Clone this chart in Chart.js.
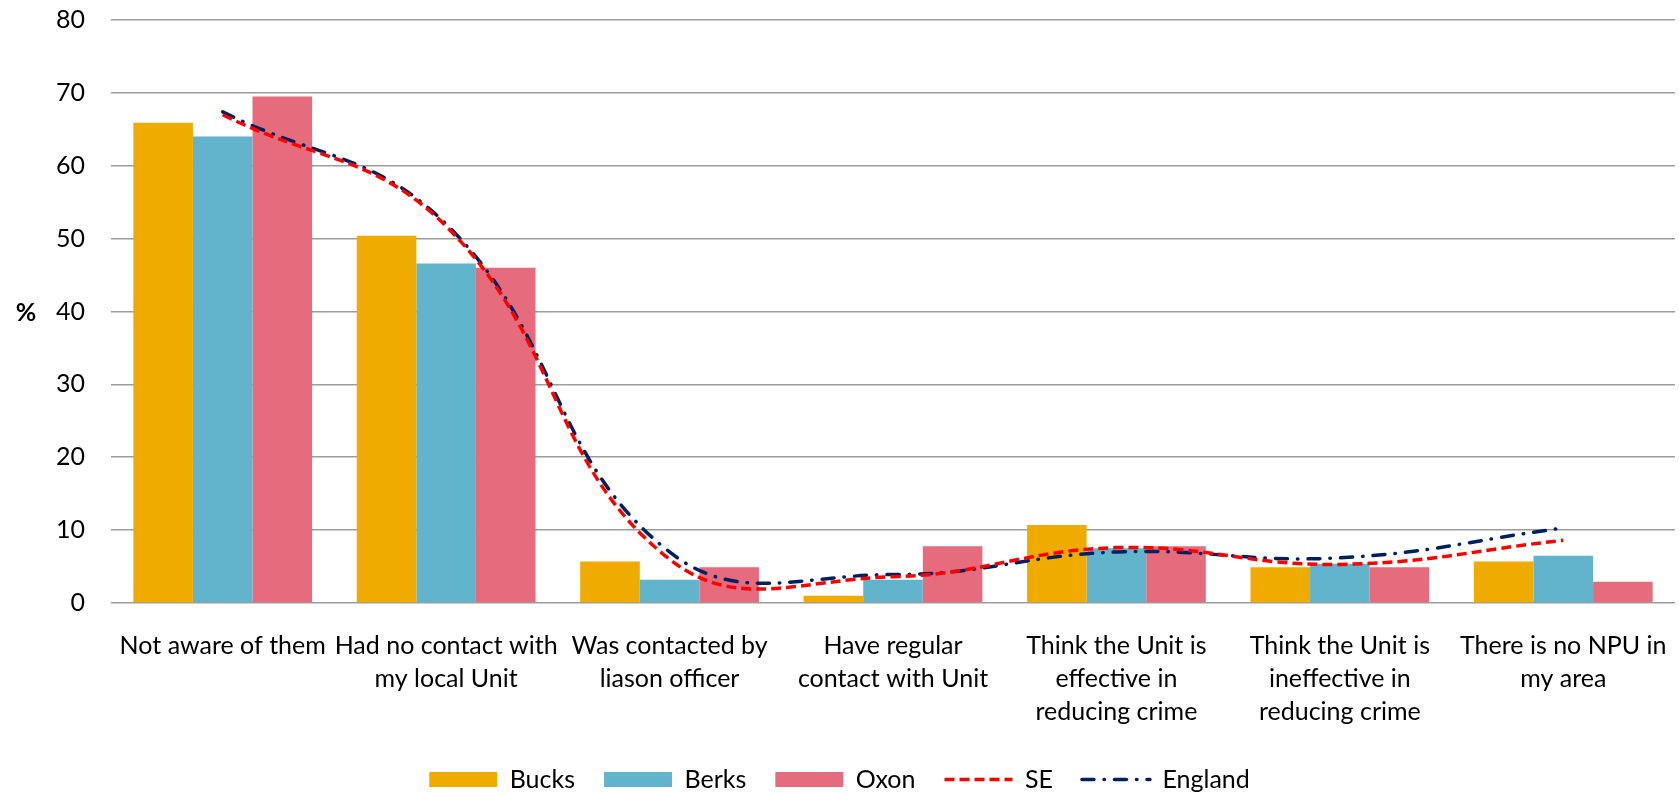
<!DOCTYPE html>
<html lang="en">
<head>
<meta charset="UTF-8">
<title>NPU awareness</title>
<script src="https://cdn.jsdelivr.net/npm/chart.js@4"></script>
<style>
  html, body { margin: 0; padding: 0; background: #fff; }
  #wrap { width: 1679px; height: 794px; position: relative; }
</style>
</head>
<body>
<div id="wrap"><canvas id="chart"></canvas></div>
<script>
const categories = [
  ["Not aware of them"],
  ["Had no contact with", "my local Unit"],
  ["Was contacted by", "liason officer"],
  ["Have regular", "contact with Unit"],
  ["Think the Unit is", "effective in", "reducing crime"],
  ["Think the Unit is", "ineffective in", "reducing crime"],
  ["There is no NPU in", "my area"]
];
const bucks = [65.9, 50.4, 5.7, 1.0, 10.7, 4.9, 5.7];
const berks = [64.0, 46.6, 3.2, 3.2, 7.5, 5.4, 6.5];
const oxon = [69.5, 46.0, 4.9, 7.8, 7.8, 4.9, 2.9];
const se = [67.0, 51.7, 6.0, 3.6, 7.6, 5.3, 8.6];
const england = [67.4, 52.0, 7.0, 3.9, 7.0, 6.2, 10.3];
const yTicks = [0, 10, 20, 30, 40, 50, 60, 70, 80];

const FONT = "Lato, 'Open Sans', sans-serif";

// "%" sits horizontally left of the axis, so draw it by hand
const yTitle = {
  id: "yTitle",
  afterDraw(chart) {
    const ctx = chart.ctx;
    ctx.save();
    ctx.font = "bold 25px " + FONT;
    ctx.fillStyle = "#000";
    ctx.textAlign = "center";
    ctx.textBaseline = "middle";
    ctx.fillText("%", 26, 313);
    ctx.restore();
  }
};

// nudge legend down to where the original sits
const legendShift = {
  id: "legendShift",
  afterLayout(chart) {
    chart.legend.top += 8;
    chart.legend.bottom += 8;
  }
};

new Chart(document.getElementById("chart"), {
  data: {
    labels: categories,
    datasets: [
      { type: "bar", label: "Bucks", data: bucks, backgroundColor: "#F0AB00", order: 1 },
      { type: "bar", label: "Berks", data: berks, backgroundColor: "#62B4CC", order: 1 },
      { type: "bar", label: "Oxon", data: oxon, backgroundColor: "#E66B7D", order: 1 },
      {
        type: "line", label: "SE", data: se, borderColor: "#FF0000", borderWidth: 3.5,
        borderDash: [10, 5], backgroundColor: "rgba(0,0,0,0)", pointRadius: 0,
        tension: 0.42, order: 0
      },
      {
        type: "line", label: "England", data: england, borderColor: "#002060", borderWidth: 3.5,
        borderDash: [12, 10, 0.5, 10], borderCapStyle: "round", backgroundColor: "rgba(0,0,0,0)",
        pointRadius: 0, tension: 0.42, order: 0
      }
    ]
  },
  options: {
    responsive: true,
    maintainAspectRatio: false,
    animation: false,
    layout: { padding: 0 },
    elements: { line: { capBezierPoints: false } },
    datasets: { bar: { categoryPercentage: 0.8, barPercentage: 1.0 } },
    scales: {
      x: {
        grid: { display: false, drawTicks: false },
        border: { display: false },
        ticks: { color: "#000", font: { family: FONT, size: 25, lineHeight: 1.32 }, padding: 26, maxRotation: 0, autoSkip: false },
        afterFit(scale) {
          scale.height = 127;
          scale.paddingLeft = 0;
          scale.paddingRight = 4;
        }
      },
      y: {
        min: 0,
        max: 80,
        afterBuildTicks(scale) { scale.ticks = yTicks.map(v => ({ value: v })); },
        grid: { color: "#9C9C9C", lineWidth: 1.6, drawTicks: false },
        border: { display: false },
        ticks: { color: "#000", font: { family: FONT, size: 25 }, padding: 26 },
        afterFit(scale) {
          scale.width = 111;
          scale.paddingTop = 20;
          scale.paddingBottom = 0;
        }
      }
    },
    plugins: {
      tooltip: { enabled: false },
      legend: {
        position: "bottom",
        labels: {
          font: { family: FONT, size: 25 },
          color: "#000",
          usePointStyle: true,
          pointStyleWidth: 68,
          boxHeight: 15,
          padding: 29,
          sort: (a, b) => a.datasetIndex - b.datasetIndex,
          generateLabels(chart) {
            const items = Chart.defaults.plugins.legend.labels.generateLabels(chart);
            items.forEach(it => {
              const ds = chart.data.datasets[it.datasetIndex];
              if (ds.type === "line") {
                it.pointStyle = "line";
                it.fillStyle = "rgba(0,0,0,0)";
                it.strokeStyle = ds.borderColor;
                it.lineWidth = 3.5;
                it.lineDash = ds.borderDash;
                it.lineCap = ds.borderCapStyle || "butt";
              } else {
                it.pointStyle = "rect";
                it.lineWidth = 0;
                it.fillStyle = ds.backgroundColor;
              }
            });
            return items;
          }
        }
      }
    }
  },
  plugins: [yTitle, legendShift]
});
</script>
</body>
</html>
